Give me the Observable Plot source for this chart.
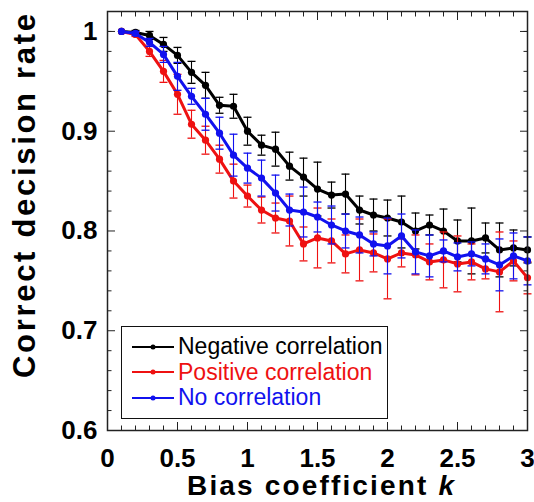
<!DOCTYPE html>
<html><head><meta charset="utf-8">
<script src="https://cdn.jsdelivr.net/npm/d3@7"></script>
<script src="https://cdn.jsdelivr.net/npm/@observablehq/plot@0.6"></script>
<style>
body{margin:0;background:#fff;font-family:"Liberation Sans",Arial,sans-serif;}
#wrap{position:relative;width:534px;height:502px;}
#legend{position:absolute;left:121px;top:326px;width:267px;height:93px;border:1.5px solid #111;box-sizing:border-box;background:#fff;}
.row{position:absolute;left:10px;height:26px;display:flex;align-items:center;font-size:23px;white-space:nowrap;}
.row svg{margin-right:4px;}
</style></head><body><div id="wrap"></div>
<script>
const k = [0.1,0.2,0.3,0.4,0.5,0.6,0.7,0.8,0.9,1.0,1.1,1.2,1.3,1.4,1.5,1.6,1.7,1.8,1.9,2.0,2.1,2.2,2.3,2.4,2.5,2.6,2.7,2.8,2.9,3.0];
const negMean = [1.000,0.999,0.996,0.987,0.976,0.959,0.946,0.926,0.925,0.900,0.886,0.882,0.865,0.854,0.842,0.836,0.837,0.821,0.816,0.813,0.809,0.800,0.806,0.800,0.790,0.790,0.793,0.781,0.783,0.781];
const negErr  = [0,0.002,0.004,0.007,0.008,0.011,0.013,0.008,0.012,0.014,0.010,0.017,0.014,0.019,0.027,0.013,0.020,0.014,0.016,0.018,0.026,0.018,0.010,0.022,0.021,0.033,0.015,0.027,0.018,0.013];
const posMean = [1.000,0.997,0.980,0.960,0.937,0.907,0.891,0.872,0.850,0.835,0.821,0.813,0.810,0.787,0.793,0.790,0.777,0.781,0.778,0.772,0.778,0.776,0.769,0.771,0.767,0.769,0.762,0.759,0.770,0.753];
const posErr  = [0,0.002,0.005,0.011,0.020,0.014,0.014,0.014,0.017,0.011,0.013,0.015,0.025,0.017,0.030,0.022,0.019,0.031,0.019,0.040,0.014,0.020,0.018,0.028,0.028,0.018,0.010,0.040,0.020,0.016];
const noMean  = [1.000,0.998,0.989,0.977,0.955,0.935,0.917,0.898,0.876,0.863,0.853,0.838,0.821,0.819,0.814,0.806,0.800,0.796,0.787,0.785,0.795,0.779,0.775,0.780,0.774,0.777,0.772,0.766,0.775,0.770];
const noErr   = [0,0.002,0.004,0.008,0.014,0.008,0.016,0.016,0.021,0.015,0.018,0.018,0.016,0.025,0.015,0.019,0.017,0.018,0.012,0.028,0.022,0.022,0.021,0.011,0.014,0.012,0.015,0.026,0.023,0.024];
const seriesNames = ["Negative correlation","Positive correlation","No correlation"];
const seriesColors = ["#000000","#ee1111","#1111ee"];
const xMajor = [0,0.5,1,1.5,2,2.5,3];
const xMinor = [0.1,0.2,0.3,0.4,0.6,0.7,0.8,0.9,1.1,1.2,1.3,1.4,1.6,1.7,1.8,1.9,2.1,2.2,2.3,2.4,2.6,2.7,2.8,2.9];
const yMajor = [0.6,0.7,0.8,0.9,1.0];
const yMinor = [0.62,0.64,0.66,0.68,0.72,0.74,0.76,0.78,0.82,0.84,0.86,0.88,0.92,0.94,0.96,0.98,1.0];
const xTitle = "Bias coefficient ";
const xTitleItalic = "k";
const yTitle = "Correct decision rate";

const means = [negMean, posMean, noMean];
const errs = [negErr, posErr, noErr];
const font = "Liberation Sans, Arial, sans-serif";
const cap = {draw(ctx){ ctx.moveTo(-4,0); ctx.lineTo(4,0); }};

const marks = [];
[0,1,2].forEach(s => {
  const data = k.map((x,i)=>({k:x, m:means[s][i], e:errs[s][i]}));
  const c = seriesColors[s];
  const eb = data.filter(d=>d.e>0);
  marks.push(Plot.ruleX(eb, {x:"k", y1:d=>d.m-d.e, y2:d=>d.m+d.e, stroke:c, strokeWidth:1.1}));
  marks.push(Plot.dot(eb, {x:"k", y:d=>d.m+d.e, symbol:cap, stroke:c, strokeWidth:1.3, fill:"none"}));
  marks.push(Plot.dot(eb, {x:"k", y:d=>d.m-d.e, symbol:cap, stroke:c, strokeWidth:1.3, fill:"none"}));
  marks.push(Plot.line(data, {x:"k", y:"m", stroke:c, strokeWidth:3}));
  marks.push(Plot.dot(data, {x:"k", y:"m", fill:c, r:3.6}));
});

const noLabel = () => "";
const chart = Plot.plot({
  width:534, height:502,
  marginTop:11, marginBottom:72, marginLeft:107, marginRight:7,
  style:{fontFamily:font, background:"#fff"},
  x:{domain:[0,3], label:null},
  y:{domain:[0.6,1.02], label:null},
  marks:[
    ...marks,
    Plot.axisX({anchor:"bottom", ticks:xMajor, tickSize:0, tickPadding:18, fontSize:26, fontWeight:"bold", fill:"#000", label:null, tickFormat:d=>String(d)}),
    Plot.axisX({anchor:"bottom", ticks:xMajor, tickSize:-8, tickFormat:noLabel, label:null, stroke:"#222"}),
    Plot.axisX({anchor:"bottom", ticks:xMinor, tickSize:-4.5, tickFormat:noLabel, label:null, stroke:"#222"}),
    Plot.axisX({anchor:"top", ticks:xMajor, tickSize:-8, tickFormat:noLabel, label:null, stroke:"#222"}),
    Plot.axisX({anchor:"top", ticks:xMinor, tickSize:-4.5, tickFormat:noLabel, label:null, stroke:"#222"}),
    Plot.axisY({anchor:"left", ticks:yMajor, tickSize:0, tickPadding:10, fontSize:26, fontWeight:"bold", fill:"#000", label:null, tickFormat:d=>String(+d.toFixed(1))}),
    Plot.axisY({anchor:"left", ticks:yMajor, tickSize:-8, tickFormat:noLabel, label:null, stroke:"#222"}),
    Plot.axisY({anchor:"left", ticks:yMinor, tickSize:-4.5, tickFormat:noLabel, label:null, stroke:"#222"}),
    Plot.axisY({anchor:"right", ticks:yMajor, tickSize:-8, tickFormat:noLabel, label:null, stroke:"#222"}),
    Plot.axisY({anchor:"right", ticks:yMinor, tickSize:-4.5, tickFormat:noLabel, label:null, stroke:"#222"}),
    Plot.frame({stroke:"#222", strokeWidth:1.5}),
    Plot.text([xTitle + xTitleItalic], {frameAnchor:"bottom", text:d=>d, textAnchor:"middle", dx:3, dy:56, lineAnchor:"middle", fontSize:28, fontWeight:"bold", fill:"#000"}),
    Plot.text([yTitle], {frameAnchor:"left", text:d=>d, textAnchor:"middle", rotate:-90, dx:-82, dy:-25, lineAnchor:"middle", fontSize:31, fontWeight:"bold", fill:"#000"})
  ]
});
const wrap = document.getElementById("wrap");
wrap.appendChild(chart);

chart.querySelectorAll("text").forEach(t => {
  if (t.textContent === xTitle + xTitleItalic) {
    t.textContent = "";
    const t1 = document.createElementNS("http://www.w3.org/2000/svg","tspan"); t1.textContent = xTitle;
    const t2 = document.createElementNS("http://www.w3.org/2000/svg","tspan"); t2.textContent = xTitleItalic; t2.setAttribute("font-style","italic");
    t.appendChild(t1); t.appendChild(t2);
    t.setAttribute("textLength","267"); t.setAttribute("lengthAdjust","spacing");
  } else if (t.textContent === yTitle) {
    t.setAttribute("textLength","364"); t.setAttribute("lengthAdjust","spacing");
  }
});

const lg = document.createElement("div"); lg.id = "legend";
const rowTops = [6.5, 32, 57.5];
seriesNames.forEach((n,i)=>{
  const r = document.createElement("div"); r.className = "row"; r.style.top = rowTops[i]+"px"; r.style.color = seriesColors[i];
  r.innerHTML = `<svg width="42" height="10"><line x1="0" y1="5" x2="42" y2="5" stroke="${seriesColors[i]}" stroke-width="2"/><circle cx="21" cy="5" r="2.5" fill="${seriesColors[i]}"/></svg><span>${n}</span>`;
  lg.appendChild(r);
});
wrap.appendChild(lg);
</script></body></html>
